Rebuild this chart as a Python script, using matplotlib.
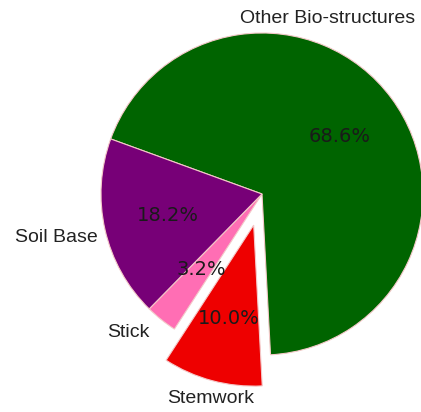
import matplotlib
matplotlib.use("Agg")
import matplotlib.pyplot as plt

labels = ["Other Bio-structures", "Stemwork", "Stick", "Soil Base"]
shares = [68.6, 10.0, 3.2, 18.2]
colors = ["#006400", "#ee0000", "#ff6eb4", "#770077"]
explode = [0, 0.2, 0, 0]

# where each category name sits (data coords) and how it is aligned
label_pos = {
    "Other Bio-structures": ((0.41, 1.09), "center"),
    "Stemwork": ((-0.32, -1.27), "center"),
    "Stick": ((-0.70, -0.86), "right"),
    "Soil Base": ((-1.02, -0.27), "right"),
}

fig = plt.figure(figsize=(4.21, 4.12), dpi=100)
ax = fig.add_axes([0, 0, 1, 1])

wedges, texts, autotexts = ax.pie(
    shares, labels=labels, colors=colors, explode=explode,
    startangle=160, counterclock=False, autopct="%1.1f%%",
    pctdistance=0.6, labeldistance=1.1,
    wedgeprops=dict(edgecolor="#f4c8c8", linewidth=0.8),
    textprops=dict(fontsize=14),
)

for t in texts:
    (x, y), ha = label_pos[t.get_text()]
    t.set_position((x, y))
    t.set_ha(ha)
    t.set_va("center")
    t.set_fontfamily("Liberation Sans")
    t.set_fontsize(14)
    t.set_color("#222222")

for t in autotexts:
    t.set_color("#1a1a1a")

# 161 px per data unit, pie centre at (262, 194) px
ax.set_aspect("auto")
ax.set_xlim(-262 / 161, (421 - 262) / 161)
ax.set_ylim(-(412 - 194) / 161, 194 / 161)
ax.axis("off")

fig.savefig("out.png", dpi=100)
